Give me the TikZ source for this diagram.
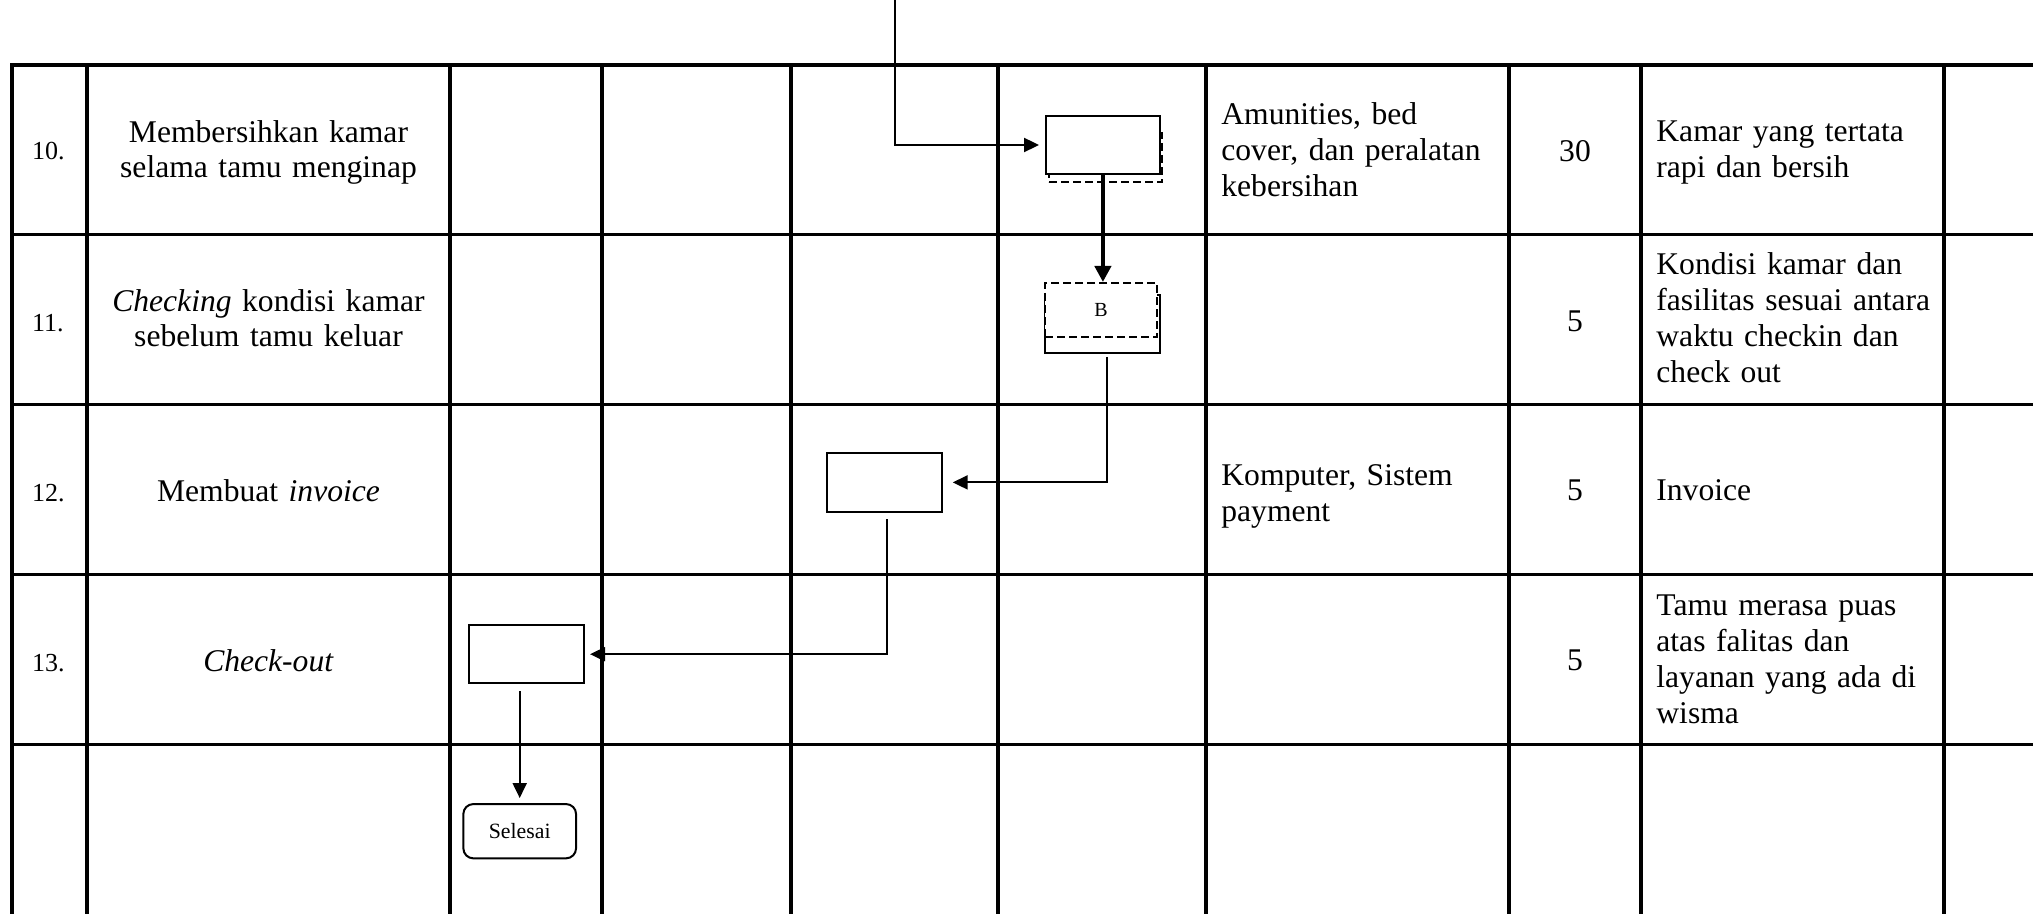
\documentclass[tikz,border=0pt]{standalone}
\usepackage{fontspec}
\setmainfont{Liberation Serif}
\usetikzlibrary{arrows.meta,calc}
\newcommand\tf{\fontsize{15.8pt}{18pt}\selectfont}
\newcommand\tfl{\fontsize{15.8pt}{17.5pt}\selectfont}
\newcommand\nf{\fontsize{13pt}{15pt}\selectfont}
\begin{document}
\begin{tikzpicture}[x=0.5pt,y=-0.5pt,
  gridline/.style={line width=1.6pt},
  fbox/.style={draw, line width=1pt, fill=white, inner sep=0pt},
  shadowbox/.style={draw, line width=1pt, dash pattern=on 4pt off 2pt, inner sep=0pt},
  arr/.style={line width=1pt, -{Triangle[length=7.5pt,width=7pt]}},
  thk/.style={line width=2pt, -{Triangle[length=8pt,width=8pt]}},
  plain/.style={line width=1pt},
  txt/.style={inner sep=0pt, font=\tf, align=left, text width=140pt, anchor=base west},
  ctxt/.style={inner sep=0pt, font=\tfl, align=center, text width=170pt, anchor=base},
  num/.style={inner sep=0pt, font=\nf, anchor=base west},
  val/.style={inner sep=0pt, font=\tf, anchor=base}]
\useasboundingbox (0,0) rectangle (2033,914);
\fill[white] (0,0) rectangle (2033,914);
\begin{scope}
\clip (0,0) rectangle (2033,914);
% grid
\draw[gridline] (12,920) -- (12,65) -- (2040,65);
\foreach \x in {87,450,602,791,998,1206,1509,1641,1944}
  \draw[gridline] (\x,65) -- (\x,920);
\foreach \y in {234.5,404.5,574.5,744.5}
  \draw[gridline] (12,\y) -- (2040,\y);
\end{scope}

% column 1: numbers
\node[num] (n10) at (31.7,159.3) {10.};
\node[num] (n11) at (31.7,331.7) {11.};
\node[num] (n12) at (31.7,501) {12.};
\node[num] (n13) at (31.7,671) {13.};

% column 2: activities
\node[ctxt] (t10) at (268.5,142.7) {Membersihkan kamar\\selama tamu menginap};
\node[ctxt] (t11) at (268.5,311.7) {\textit{Checking} kondisi kamar\\sebelum tamu keluar};
\node[ctxt] (t12) at (268.5,501.7) {Membuat \textit{invoice}};
\node[ctxt] (t13) at (268.5,671.6) {\textit{Check-out}};

% column 7: tools
\node[txt] (a10) at (1221,125) {Amunities, bed\\cover, dan peralatan\\kebersihan};
\node[txt] (a12) at (1221,485) {Komputer, Sistem\\payment};

% column 8: time
\node[val] (w10) at (1575,161.7) {30};
\node[val] (w11) at (1575,331.7) {5};
\node[val] (w12) at (1575,500) {5};
\node[val] (w13) at (1575,670) {5};

% column 9: output
\node[txt] (k10) at (1656,141.7) {Kamar yang tertata\\rapi dan bersih};
\node[txt] (k11) at (1656,275) {Kondisi kamar dan\\fasilitas sesuai antara\\waktu checkin dan\\check out};
\node[txt] (k12) at (1656,500) {Invoice};
\node[txt] (k13) at (1656,615) {Tamu merasa puas\\atas falitas dan\\layanan yang ada di\\wisma};

% flowchart shapes
\node[shadowbox, minimum width=56.5pt, minimum height=24.5pt] (sh10) at (1105.5,157.5) {};
\node[fbox, minimum width=57.15pt, minimum height=29pt] (box10) at (1102.9,145) {};
\node[fbox, minimum width=57.5pt, minimum height=29pt] (bsolid) at (1102.5,324) {};
\node[fbox, dash pattern=on 4pt off 2pt, minimum width=56pt, minimum height=27pt,
      font=\fontsize{10pt}{12pt}\selectfont] (bdash) at (1101,310) {B};
\node[fbox, minimum width=57.5pt, minimum height=29.35pt] (box12) at (884.2,482.4) {};
\node[fbox, minimum width=57.35pt, minimum height=29.15pt] (box13) at (526.7,654.2) {};
\node[fbox, rounded corners=5pt, minimum width=56.35pt, minimum height=27.15pt,
      font=\fontsize{10.9pt}{13pt}\selectfont] (sel) at (519.7,831.2) {Selesai};

% connectors
\coordinate (topin) at (894.6,0);
\draw[arr] (topin) |- ($(box10.west)+(-5.7,0)$);
\draw[thk] (box10.south) -- (box10.south |- bdash.north);
\draw[arr] ($(bsolid.south)+(4.2,3)$) |- ($(box12.east)+(10,0)$);
\draw[arr] ($(box12.south)+(2.5,6.3)$) |- ($(box13.east)+(5,0)$);
\coordinate (c13) at (box13.south -| sel.north);
\draw[arr] ($(c13)+(0,6.7)$) -- ($(sel.north)+(0,-5)$);
\end{tikzpicture}
\end{document}
